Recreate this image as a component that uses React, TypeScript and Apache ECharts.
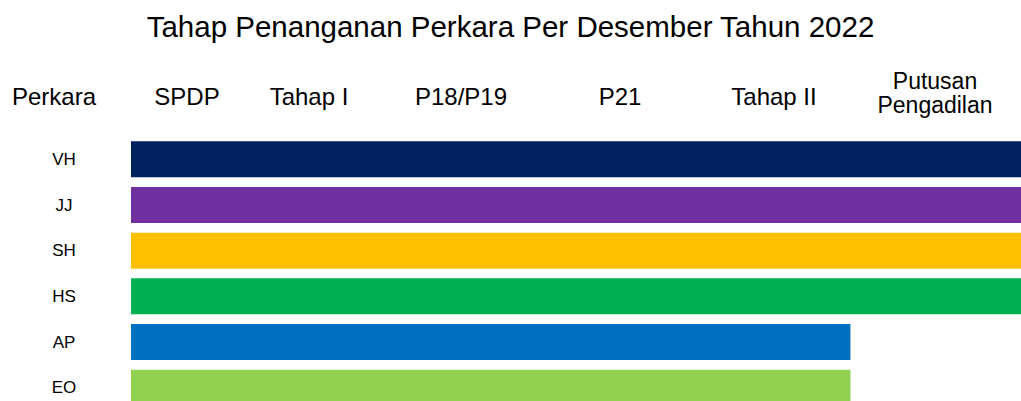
import React, { useEffect, useRef } from "react";
import * as echarts from "echarts";

const titleText = "Tahap Penanganan Perkara Per Desember Tahun 2022";
const categories = ["VH", "JJ", "SH", "HS", "AP", "EO"];
const stageValues = [6, 6, 6, 6, 4.85, 4.85];
const barColors = ["#002060", "#7030A0", "#FFC000", "#00B050", "#0070C0", "#92D050"];
const stageHeaders = ["SPDP", "Tahap I", "P18/P19", "P21", "Tahap II", "Putusan\nPengadilan"];
const headerCenters = [187, 309, 461, 620, 774, 935];
const rowHeader = "Perkara";

const FONT = "'Liberation Sans', Arial, sans-serif";

export default function App() {
  const ref = useRef<HTMLDivElement>(null);
  useEffect(() => {
    document.body.style.margin = "0";
    document.body.style.overflow = "hidden";
    document.documentElement.style.overflow = "hidden";
    const chart = echarts.init(ref.current!, undefined, { renderer: "svg" });
    const headerGraphics: any[] = stageHeaders.map((h, i) => {
      const multi = h.indexOf("\n") >= 0;
      return {
        type: "text",
        x: headerCenters[i],
        y: multi ? 93 : 96,
        style: {
          text: h,
          fill: "#000",
          font: `${multi ? 23 : 24}px ${FONT}`,
          textAlign: "center",
          textVerticalAlign: "middle",
          lineHeight: 24,
        },
      };
    });
    headerGraphics.push({
      type: "text",
      x: 54,
      y: 96,
      style: {
        text: rowHeader,
        fill: "#000",
        font: `24px ${FONT}`,
        textAlign: "center",
        textVerticalAlign: "middle",
      },
    });
    chart.setOption({
      animation: false,
      title: {
        text: titleText,
        left: "center",
        top: 6,
        textStyle: { fontFamily: FONT, fontSize: 29.5, fontWeight: "normal", color: "#000" },
      },
      graphic: headerGraphics,
      grid: { left: 131, right: 0, top: 136.5, height: 274, containLabel: false },
      xAxis: {
        type: "value",
        min: 0,
        max: 6,
        show: false,
      },
      yAxis: {
        type: "category",
        data: categories,
        inverse: true,
        axisLine: { show: false },
        axisTick: { show: false },
        axisLabel: {
          align: "center",
          margin: 67,
          fontFamily: FONT,
          fontSize: 17,
          color: "#000",
        },
      },
      series: [
        {
          type: "bar",
          data: stageValues.map((v, i) => ({ value: v, itemStyle: { color: barColors[i] } })),
          barWidth: 36,
        },
      ],
    });
    return () => chart.dispose();
  }, []);
  return (
    <div
      ref={ref}
      style={{ position: "absolute", left: 0, top: 0, width: 1021, height: 420, background: "#fff" }}
    />
  );
}
